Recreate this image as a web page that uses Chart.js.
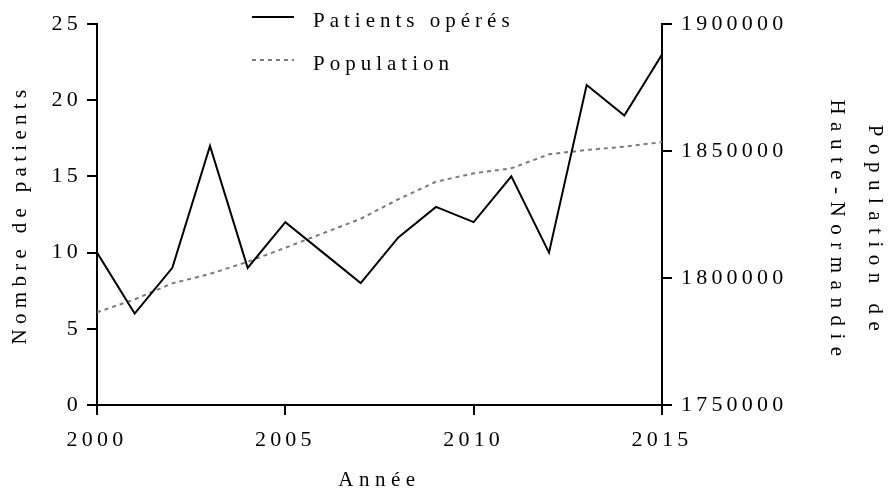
<!DOCTYPE html>
<html><head><meta charset="utf-8">
<script src="https://cdn.jsdelivr.net/npm/chart.js@4.4.1/dist/chart.umd.min.js"></script>
<style>html,body{margin:0;padding:0;background:#fff;} canvas{display:block;}</style>
</head><body>
<canvas id="c" width="888" height="493"></canvas>
<script>
const years = [2000,2001,2002,2003,2004,2005,2006,2007,2008,2009,2010,2011,2012,2013,2014,2015];
const patients = [10,6,9,17,9,12,10,8,11,13,12,15,10,21,19,23];
const population = [1786500,1791600,1797900,1801600,1806400,1811900,1817600,1823300,1831000,1837900,1841200,1843200,1848700,1850400,1851700,1853500];
const xTicks = [2000,2005,2010,2015];
const leftTicks = [0,5,10,15,20,25];
const rightTicks = [1750000,1800000,1850000,1900000];
const seriesNames = ['Patients opérés','Population'];
const xTitle = 'Année';
const leftTitle = 'Nombre de patients';
const rightTitle = ['Population de','Haute-Normandie'];

const FAMILY = "'Liberation Serif', 'Times New Roman', serif";
const SPACING = '4.2px';
const black = '#000';

const spacingPlugin = {
  id: 'spacing',
  beforeLayout(chart){ chart.ctx.letterSpacing = SPACING; },
  beforeDraw(chart){ chart.ctx.letterSpacing = SPACING; }
};

const legendPlugin = {
  id: 'customLegend',
  afterDraw(chart){
    const ctx = chart.ctx;
    chart.data.datasets.forEach((ds, i) => {
      const y = 17 + 43 * i;
      ctx.save();
      ctx.strokeStyle = ds.borderColor;
      ctx.lineWidth = ds.borderWidth;
      ctx.setLineDash(ds.borderDash || []);
      ctx.beginPath();
      ctx.moveTo(252, y);
      ctx.lineTo(294, y);
      ctx.stroke();
      ctx.setLineDash([]);
      ctx.letterSpacing = '5px';
      ctx.font = '21px ' + FAMILY;
      ctx.fillStyle = black;
      ctx.textBaseline = 'middle';
      ctx.textAlign = 'left';
      ctx.fillText(ds.label, 313, y + 4);
      ctx.restore();
    });
  }
};

function wrapTitle(s, spacing, dy){
  if (s._titleWrapped) return;
  const orig = s.drawTitle.bind(s);
  s.drawTitle = function(){
    const c = this.ctx;
    c.save();
    c.letterSpacing = spacing;
    c.translate(0, dy);
    orig();
    c.restore();
  };
  s._titleWrapped = true;
}

function gridOpts(){
  return {display:true, drawOnChartArea:false, drawTicks:true, tickLength:10, tickWidth:2, tickColor:black, color:black, lineWidth:2};
}
const tickFont = {family: FAMILY, size: 22};
const titleFont = {family: FAMILY, size: 21};

new Chart(document.getElementById('c'), {
  type: 'line',
  data: {
    datasets: [
      {label: seriesNames[0], data: years.map((y,i)=>({x:y, y:patients[i]})), borderColor: black, borderWidth: 2, pointRadius: 0, tension: 0, fill: false, yAxisID: 'y'},
      {label: seriesNames[1], data: years.map((y,i)=>({x:y, y:population[i]})), borderColor: '#7a7a7a', borderWidth: 2, borderDash: [4,4], pointRadius: 0, tension: 0, fill: false, yAxisID: 'y1'}
    ]
  },
  options: {
    responsive: false,
    animation: false,
    devicePixelRatio: 1,
    layout: {padding: {top: 24, left: 0, right: 0, bottom: 0}},
    plugins: {legend: {display: false}, tooltip: {enabled: false}},
    scales: {
      x: {
        type: 'linear', position: 'bottom', min: xTicks[0], max: xTicks[xTicks.length-1],
        afterBuildTicks: s => { s.ticks = xTicks.map(v => ({value: v})); },
        afterFit: s => { s.height = 88; wrapTitle(s, '5.5px', 0); },
        grid: gridOpts(),
        border: {display: true, color: black, width: 2},
        ticks: {color: black, font: tickFont, padding: 12, maxRotation: 0, autoSkip: false, callback: v => String(v)},
        title: {display: true, text: xTitle, color: black, font: titleFont, padding: {top: 0, bottom: 0}}
      },
      y: {
        type: 'linear', position: 'left', min: leftTicks[0], max: leftTicks[leftTicks.length-1],
        afterBuildTicks: s => { s.ticks = leftTicks.map(v => ({value: v})); },
        afterFit: s => { s.width = 97; wrapTitle(s, '5.3px', 0); },
        grid: gridOpts(),
        border: {display: true, color: black, width: 2},
        ticks: {color: black, font: tickFont, padding: 5, autoSkip: false, callback: v => String(v)},
        title: {display: true, text: leftTitle, color: black, font: titleFont, padding: {top: 8, bottom: 0}}
      },
      y1: {
        type: 'linear', position: 'right', min: rightTicks[0], max: rightTicks[rightTicks.length-1],
        afterBuildTicks: s => { s.ticks = rightTicks.map(v => ({value: v})); },
        afterFit: s => { s.width = 226; wrapTitle(s, '7.5px', 17); },
        grid: gridOpts(),
        border: {display: true, color: black, width: 2},
        ticks: {color: black, font: tickFont, padding: 9, autoSkip: false, callback: v => String(v)},
        title: {display: true, text: rightTitle, color: black, font: {family: FAMILY, size: 21, lineHeight: 1.8}, padding: {top: -5, bottom: 0}}
      }
    }
  },
  plugins: [spacingPlugin, legendPlugin]
});
</script>
</body></html>
